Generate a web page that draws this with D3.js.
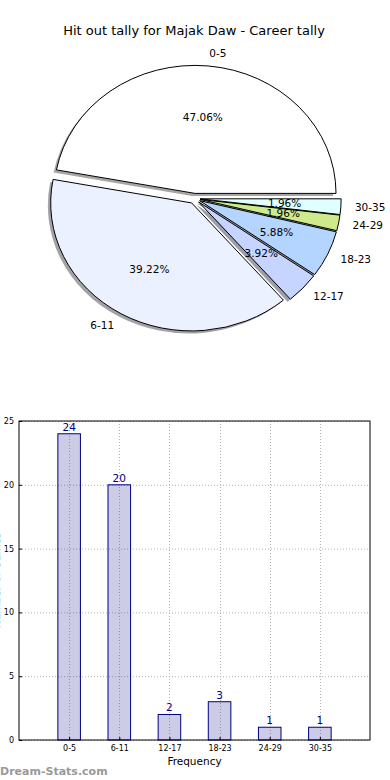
<!DOCTYPE html>
<html>
<head>
<meta charset="utf-8">
<script src="https://cdn.jsdelivr.net/npm/d3@7"></script>
<style>
  html, body { margin: 0; padding: 0; background: #fff; }
  svg { display: block; font-family: "DejaVu Sans", sans-serif; }
</style>
</head>
<body>
<svg id="chart" width="390" height="780"></svg>
<script>
const title = "Hit out tally for Majak Daw - Career tally";
const categories = ["0-5", "6-11", "12-17", "18-23", "24-29", "30-35"];
const counts = [24, 20, 2, 3, 1, 1];
const sliceColors = ["#ffffff", "#ebf1ff", "#c6d5ff", "#b3d5ff", "#cdeb8b", "#e0ffff"];
const yTicks = [0, 5, 10, 15, 20, 25];
const xLabel = "Frequency";
const yLabel = "Number of Games";
const watermark = "Dream-Stats.com";

const svg = d3.select("#chart");

svg.append("text")
  .attr("x", 194).attr("y", 35)
  .attr("text-anchor", "middle")
  .style("font-size", "13px")
  .attr("fill", "#000")
  .text(title);

// ---- pie (matplotlib style: starts at 3 o'clock, counter-clockwise) ----
const cx = 194.5, cy = 198.5, rx = 141, ry = 128;
const explode = 0.04;
const total = d3.sum(counts);

const pie = d3.pie().sort(null)
  .startAngle(Math.PI / 2)
  .endAngle(Math.PI / 2 - 2 * Math.PI);
const slices = pie(counts);
const arc = d3.arc().innerRadius(0).outerRadius(rx);

const pieG = svg.append("g")
  .attr("transform", `translate(${cx},${cy}) scale(1,${ry / rx})`);

const mid = d => (d.startAngle + d.endAngle) / 2;
const offset = d => [Math.sin(mid(d)) * explode * rx, -Math.cos(mid(d)) * explode * rx];

// shadows first, below every wedge
pieG.selectAll("path.shadow")
  .data(slices)
  .join("path")
  .attr("class", "shadow")
  .attr("d", arc)
  .attr("transform", d => {
    const [ox, oy] = offset(d);
    return `translate(${ox - 0.02 * rx},${oy + 0.02 * rx})`;
  })
  .attr("fill", (d, i) => {
    const c = d3.rgb(sliceColors[i]);
    return d3.rgb(c.r * 0.3, c.g * 0.3, c.b * 0.3);
  })
  .attr("fill-opacity", 0.5);

pieG.selectAll("path.wedge")
  .data(slices)
  .join("path")
  .attr("class", "wedge")
  .attr("d", arc)
  .attr("transform", d => {
    const [ox, oy] = offset(d);
    return `translate(${ox},${oy})`;
  })
  .attr("fill", (d, i) => sliceColors[i])
  .attr("stroke", "#000")
  .attr("stroke-width", 1)
  .attr("vector-effect", "non-scaling-stroke");

// labels in screen coordinates
const labelPos = (d, f) => {
  const [ox, oy] = offset(d);
  return [cx + ox + f * rx * Math.sin(mid(d)), cy + (oy - f * rx * Math.cos(mid(d))) * ry / rx];
};

svg.append("g").selectAll("text")
  .data(slices)
  .join("text")
  .attr("x", d => labelPos(d, 1.1)[0])
  .attr("y", d => labelPos(d, 1.1)[1])
  .attr("dy", "0.35em")
  .attr("text-anchor", d => Math.sin(mid(d)) > 0 ? "start" : "end")
  .style("font-size", "10.5px")
  .text((d, i) => categories[i]);

svg.append("g").selectAll("text")
  .data(slices)
  .join("text")
  .attr("x", d => labelPos(d, 0.6)[0])
  .attr("y", d => labelPos(d, 0.6)[1])
  .attr("dy", "0.35em")
  .attr("text-anchor", "middle")
  .style("font-size", "10.5px")
  .text(d => (d.value / total * 100).toFixed(2) + "%");

// ---- bar chart ----
const plotLeft = 19, plotRight = 370, plotTop = 421, plotBottom = 740;
const x = d3.scaleLinear().domain([-1, categories.length]).range([plotLeft, plotRight]);
const y = d3.scaleLinear().domain([0, 25]).range([plotBottom, plotTop]);
const barW = 0.45;

const grid = svg.append("g")
  .attr("stroke", "#b4b4b4")
  .attr("stroke-width", 1)
  .attr("stroke-dasharray", "1,2");
grid.selectAll("line.h")
  .data(yTicks)
  .join("line")
  .attr("class", "h")
  .attr("x1", plotLeft).attr("x2", plotRight)
  .attr("y1", d => y(d) + 0.5).attr("y2", d => y(d) + 0.5);
grid.selectAll("line.v")
  .data(categories)
  .join("line")
  .attr("class", "v")
  .attr("x1", (d, i) => Math.round(x(i)) + 0.5).attr("x2", (d, i) => Math.round(x(i)) + 0.5)
  .attr("y1", plotTop).attr("y2", plotBottom);

svg.append("g").selectAll("rect")
  .data(counts)
  .join("rect")
  .attr("x", (d, i) => x(i - barW / 2))
  .attr("y", d => y(d))
  .attr("width", (d, i) => x(i + barW / 2) - x(i - barW / 2))
  .attr("height", d => y(0) - y(d))
  .attr("fill", "navy")
  .attr("fill-opacity", 0.2)
  .attr("stroke", "navy")
  .attr("stroke-width", 1);

svg.append("g").selectAll("text")
  .data(counts)
  .join("text")
  .attr("x", (d, i) => x(i))
  .attr("y", d => y(d) - 3)
  .attr("text-anchor", "middle")
  .attr("fill", "navy")
  .style("font-size", "10.5px")
  .text(d => d);

// frame
svg.append("rect")
  .attr("x", plotLeft).attr("y", plotTop)
  .attr("width", plotRight - plotLeft).attr("height", plotBottom - plotTop)
  .attr("fill", "none")
  .attr("stroke", "#000")
  .attr("stroke-width", 1);

// axes
const yAxis = d3.axisLeft(y).tickValues(yTicks).tickSize(-3).tickPadding(5);
const xAxis = d3.axisBottom(x).tickValues(d3.range(categories.length))
  .tickFormat(i => categories[i]).tickSize(-3).tickPadding(5);

const gy = svg.append("g").attr("transform", `translate(${plotLeft},0)`).call(yAxis);
const gx = svg.append("g").attr("transform", `translate(0,${plotBottom})`).call(xAxis);
[gy, gx].forEach(g => {
  g.select(".domain").remove();
  g.selectAll("text").style("font-size", "8px").style("font-family", "DejaVu Sans, sans-serif").attr("fill", "#000");
  g.selectAll("line").attr("stroke", "#000");
});

svg.append("text")
  .attr("x", (plotLeft + plotRight) / 2).attr("y", 765)
  .attr("text-anchor", "middle")
  .style("font-size", "10.5px")
  .text(xLabel);

// y label sits mostly off the left edge, as in the reference
svg.append("text")
  .attr("transform", `translate(0,${(plotTop + plotBottom) / 2}) rotate(-90)`)
  .attr("text-anchor", "middle")
  .style("font-size", "10.5px")
  .text(yLabel);

svg.append("text")
  .attr("x", 0).attr("y", 775)
  .attr("fill", "#999")
  .style("font-size", "11px")
  .style("font-weight", "bold")
  .text(watermark);
</script>
</body>
</html>
